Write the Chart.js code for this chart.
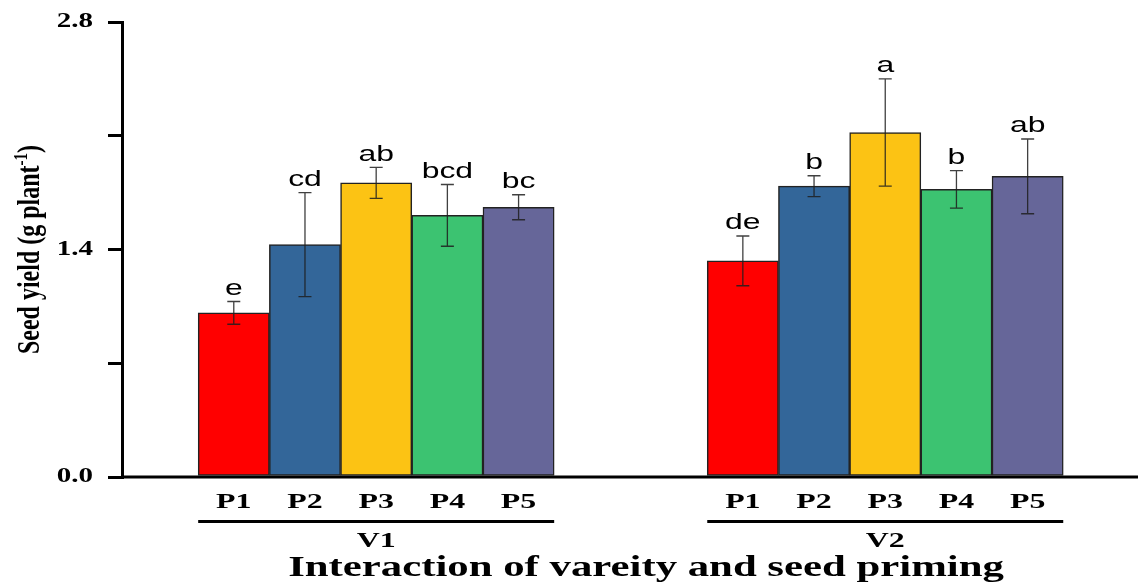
<!DOCTYPE html>
<html lang="en">
<head>
    <meta charset="UTF-8">
    <title>Seed yield</title>
    <style>
        body { margin: 0; background: white; }
        #wrap { position: relative; width: 1138px; height: 584px; }
    </style>
</head>
<body>
    <div id="wrap"><canvas id="myChart"></canvas></div>

    <script src="https://cdn.jsdelivr.net/npm/chart.js"></script>

    <script>
        // data
        const varieties = ['V1', 'V2']
        const primings = ['P1', 'P2', 'P3', 'P4', 'P5']
        const v1Yield = [1.01, 1.43, 1.81, 1.61, 1.66]
        const v2Yield = [1.33, 1.79, 2.12, 1.77, 1.85]
        const v1Err = [0.07, 0.32, 0.095, 0.19, 0.077]
        const v2Err = [0.153, 0.064, 0.33, 0.115, 0.23]
        const v1Letters = ['e', 'cd', 'ab', 'bcd', 'bc']
        const v2Letters = ['de', 'b', 'a', 'b', 'ab']
        const yTicks = [0, 0.7, 1.4, 2.1, 2.8]
        const yTickLabels = ['0.0', '', '1.4', '', '2.8']

        const colors = ['#ff0000', '#336699', '#fcc314', '#3cc371', '#666699']
        const groupStart = [1.07, 8.22]   // in bar widths from the y axis
        const xMax = 14.27
        const stretch = 1.45              // the figure is stretched sideways

        const yields = [v1Yield, v2Yield]
        const errs = [v1Err, v2Err]
        const letters = [v1Letters, v2Letters]

        let points = [], barColors = [], errList = [], letterList = []
        varieties.forEach((v, g) => {
            primings.forEach((p, i) => {
                points.push({ x: groupStart[g] + i + 0.5, y: yields[g][i] })
                barColors.push(colors[i])
                errList.push(errs[g][i])
                letterList.push(letters[g][i])
            })
        })

        const serif = '"Liberation Serif", "Times New Roman", serif'
        const sans = '"Liberation Sans", Arial, sans-serif'

        // text stretched along x like the original picture
        function wideText(ctx, txt, x, y, font, align) {
            ctx.save()
            ctx.font = font
            ctx.textAlign = align || 'center'
            ctx.translate(x, y)
            ctx.scale(stretch, 1)
            ctx.fillText(txt, 0, 0)
            ctx.restore()
        }

        const extras = {
            id: 'extras',
            afterDraw(chart) {
                const ctx = chart.ctx
                const xs = chart.scales.x, ys = chart.scales.y
                const area = chart.chartArea
                ctx.save()
                ctx.fillStyle = '#000'

                // x axis line
                ctx.strokeStyle = '#000'
                ctx.lineWidth = 3
                ctx.beginPath()
                ctx.moveTo(area.left, area.bottom)
                ctx.lineTo(area.right, area.bottom)
                ctx.stroke()

                // y tick labels
                ctx.textBaseline = 'middle'
                yTicks.forEach((v, i) => {
                    wideText(ctx, yTickLabels[i], 93, ys.getPixelForValue(v), 'bold 20px ' + serif, 'right')
                })

                // y title, rotated, with a real superscript
                ctx.save()
                ctx.translate(31, (area.top + area.bottom) / 2)
                ctx.rotate(-Math.PI / 2)
                ctx.scale(1, 1.3)
                ctx.textBaseline = 'middle'
                ctx.textAlign = 'left'
                const mainFont = 'bold 24px ' + serif, supFont = 'bold 15px ' + serif
                const parts = [['Seed yield (g plant', mainFont, 0], ['-1', supFont, -7], [')', mainFont, 0]]
                let total = 0
                parts.forEach(p => { ctx.font = p[1]; total += ctx.measureText(p[0]).width })
                let px = -total / 2
                parts.forEach(p => {
                    ctx.font = p[1]
                    ctx.fillText(p[0], px, p[2])
                    px += ctx.measureText(p[0]).width
                })
                ctx.restore()

                // error bars + letters
                points.forEach((pt, i) => {
                    const x = xs.getPixelForValue(pt.x)
                    const yT = ys.getPixelForValue(pt.y + errList[i])
                    const yB = ys.getPixelForValue(pt.y - errList[i])
                    ctx.strokeStyle = 'rgba(30,30,30,0.85)'
                    ctx.lineWidth = 1.3
                    ctx.beginPath()
                    ctx.moveTo(x, yT); ctx.lineTo(x, yB)
                    ctx.moveTo(x - 6.5, yT); ctx.lineTo(x + 6.5, yT)
                    ctx.moveTo(x - 6.5, yB); ctx.lineTo(x + 6.5, yB)
                    ctx.stroke()

                    ctx.textBaseline = 'bottom'
                    wideText(ctx, letterList[i], x, yT - 2, '22px ' + sans)
                })

                // treatment labels, brackets, variety labels
                ctx.textBaseline = 'middle'
                varieties.forEach((v, g) => {
                    primings.forEach((p, i) => {
                        const x = xs.getPixelForValue(groupStart[g] + i + 0.5)
                        wideText(ctx, p, x, 502, 'bold 22px ' + serif)
                    })
                    const x0 = xs.getPixelForValue(groupStart[g])
                    const x1 = xs.getPixelForValue(groupStart[g] + primings.length)
                    ctx.lineWidth = 3
                    ctx.strokeStyle = '#000'
                    ctx.beginPath()
                    ctx.moveTo(x0, 521.5); ctx.lineTo(x1, 521.5)
                    ctx.stroke()
                    wideText(ctx, v, (x0 + x1) / 2, 541, 'bold 22px ' + serif)
                })

                wideText(ctx, 'Interaction of vareity and seed priming', 646, 568, 'bold 29.5px ' + serif)
                ctx.restore()
            }
        }

        const ctx = document.getElementById('myChart')
        const myChart = new Chart(ctx, {
            type: 'bar',
            data: {
                datasets: [{
                    data: points,
                    backgroundColor: barColors,
                    borderColor: '#222',
                    borderWidth: 1.5,
                    borderSkipped: false,
                    categoryPercentage: 1,
                    barPercentage: 1
                }]
            },
            options: {
                responsive: true,
                maintainAspectRatio: false,
                animation: false,
                layout: { padding: { top: 22, right: 0, bottom: 107, left: 0 } },
                plugins: { legend: { display: false }, tooltip: { enabled: false } },
                scales: {
                    x: {
                        type: 'linear',
                        display: false,
                        offset: false,
                        min: 0,
                        max: xMax
                    },
                    y: {
                        min: 0,
                        max: 2.8,
                        afterFit: s => { s.width = 122 },
                        afterBuildTicks: s => { s.ticks = yTicks.map(v => ({ value: v })) },
                        border: { display: true, color: '#000', width: 3 },
                        grid: { drawOnChartArea: false, color: '#000', lineWidth: 3, tickLength: 14 },
                        ticks: { display: false }
                    }
                }
            },
            plugins: [extras]
        })
    </script>
</body>
</html>
